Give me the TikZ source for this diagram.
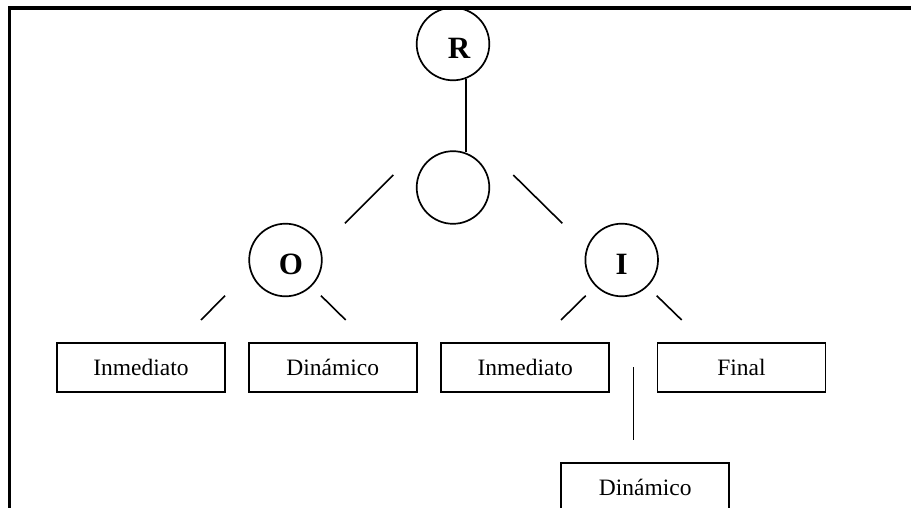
\documentclass[tikz,border=0pt]{standalone}
\usepackage{fontspec}
\setmainfont{Liberation Serif}
\begin{document}
\begin{tikzpicture}[x=1pt,y=-1pt,
  ring/.style={draw, circle, line width=1.7pt, minimum size=72.6pt, inner sep=0pt},
  letter/.style={inner sep=0pt, font=\fontsize{31}{31}\selectfont\bfseries},
  leaf/.style={draw, rectangle, line width=1.7pt, minimum width=168pt, minimum height=48.4pt,
    inner sep=0pt, font=\fontsize{23.5}{23.5}\selectfont},
  link/.style={line width=1.6pt},
  frame/.style={line width=3.6pt}]
\useasboundingbox (0,0) rectangle (911,508);

% frame: top rule and left rule
\coordinate (fTL) at (9.3,7.8);
\coordinate (fTR) at (911,7.8);
\coordinate (fBL) at (9.3,508);
\draw[frame] (fTR) -- (fTL) -- (fBL);

% circles
\node[ring] (r) at (453,44) {};
\node[letter] (rt) at (459,48) {R};
\node[ring] (m) at (453,187.5) {};
\node[ring] (o) at (285.5,260) {};
\node[letter] (ot) at (291,264) {O};
\node[ring] (i) at (621.7,260) {};
\node[letter] (it) at (621.7,264.5) {I};

% boxes
\node[leaf] (b1) at (141,367.5) {Inmediato};
\node[leaf] (b2) at (332.8,367.5) {Dinámico};
\node[leaf] (b3) at (525.2,367.5) {Inmediato};
\node[leaf] (b4) at (741.5,367.5) {Final};
\node[leaf] (b5) at (645.2,487.5) {Dinámico};

% free-standing connector ends
\coordinate (rm1) at (465.7,79);
\coordinate (rm2) at (465.7,152);
\coordinate (mo1) at (393.3,175);
\coordinate (mo2) at (345,223.3);
\coordinate (mi1) at (513.3,175);
\coordinate (mi2) at (562.3,223.3);
\coordinate (ob1) at (225,295.7);
\coordinate (ob2) at (201,320);
\coordinate (oc1) at (321,295.7);
\coordinate (oc2) at (345.7,320);
\coordinate (ib1) at (585.7,295.7);
\coordinate (ib2) at (561,320);
\coordinate (ic1) at (656.7,295.7);
\coordinate (ic2) at (681.7,320);
\coordinate (id1) at (633.3,367.3);
\coordinate (id2) at (633.3,440);

\draw[link] (rm1) -- (rm2);
\draw[link] (mo1) -- (mo2);
\draw[link] (mi1) -- (mi2);
\draw[link] (ob1) -- (ob2);
\draw[link] (oc1) -- (oc2);
\draw[link] (ib1) -- (ib2);
\draw[link] (ic1) -- (ic2);
\draw[link] (id1) -- (id2);
\end{tikzpicture}
\end{document}
